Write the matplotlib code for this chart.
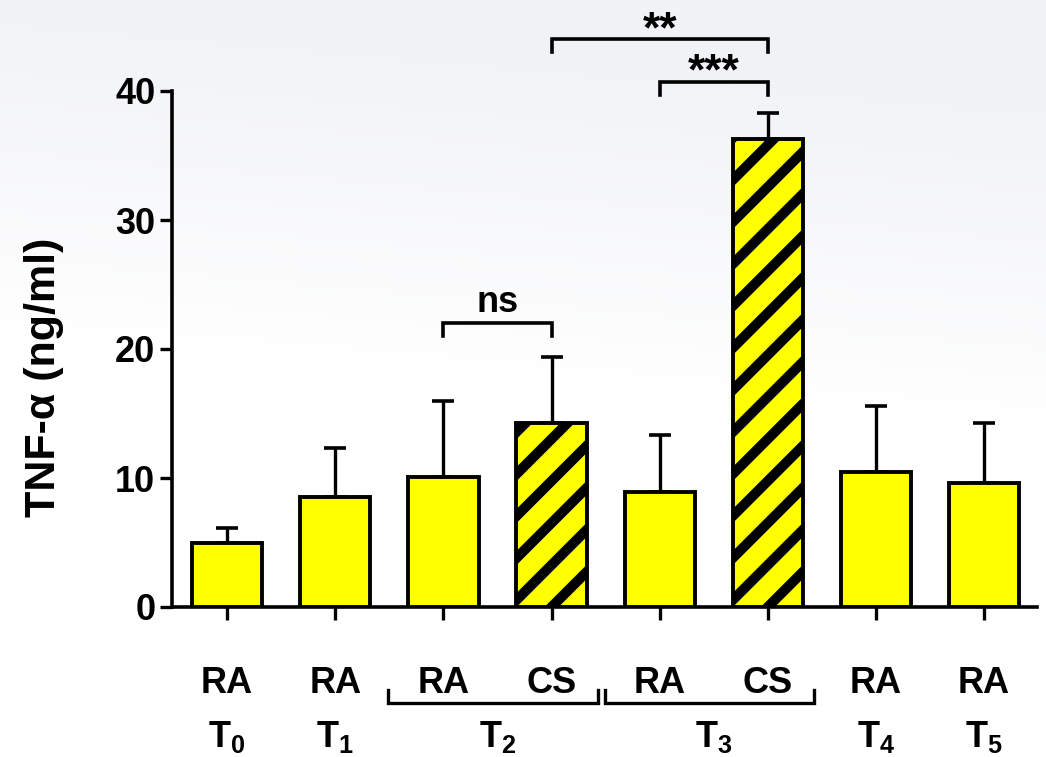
import numpy as np
import matplotlib
matplotlib.use("Agg")
import matplotlib.pyplot as plt
from matplotlib.lines import Line2D
from matplotlib.transforms import IdentityTransform

# valori (media + errore verso l'alto)
group_labels = ["RA", "RA", "RA", "CS", "RA", "CS", "RA", "RA"]
means = [5.0, 8.5, 10.1, 14.3, 8.9, 36.3, 10.5, 9.6]
errors = [1.1, 3.8, 5.9, 5.1, 4.4, 2.0, 5.1, 4.7]
hatched = [False, False, False, True, False, True, False, False]
time_labels = ["0", "1", "2", "3", "4", "5"]
time_centers = [0, 1, 2.5, 4.5, 6, 7]
paired_times = [(2, 3), (4, 5)]
# confronti: (barra a, barra b, altezza, testo)
comparisons = [(2, 3, 22.0, "ns"), (4, 5, 40.7, "***"), (3, 5, 44.0, "**")]

plt.rcParams["font.family"] = "Liberation Sans"
plt.rcParams["font.weight"] = "bold"
plt.rcParams["mathtext.fontset"] = "custom"
plt.rcParams["mathtext.rm"] = "Liberation Sans:bold"
plt.rcParams["mathtext.it"] = "Liberation Sans:bold"
plt.rcParams["mathtext.bf"] = "Liberation Sans:bold"
plt.rcParams["mathtext.default"] = "regular"

W, H = 1046, 757
fig = plt.figure(figsize=(W / 100, H / 100), dpi=100)

# sfondo sfumato leggero in alto
bg = fig.add_axes([0, 0, 1, 1], zorder=0)
bg.axis("off")
yy, xx = np.mgrid[0:1:200j, 0:1:200j]
t = np.clip((yy - 0.55 + 0.12 * xx) / 0.45, 0, 1)
base = np.array([1.0, 1.0, 1.0])
top = np.array([0.945, 0.950, 0.965])
img = base[None, None, :] * (1 - t[..., None]) + top[None, None, :] * t[..., None]
bg.imshow(img, extent=[0, 1, 0, 1], origin="lower", aspect="auto", interpolation="bilinear")
bg.set_xlim(0, 1)
bg.set_ylim(0, 1)

ax = fig.add_axes([172 / W, 150 / H, 865 / W, 516 / H], zorder=1)
ax.patch.set_alpha(0)

x = np.arange(len(means))
ax.errorbar(x, means, yerr=[np.zeros(len(errors)), errors], fmt="none",
            ecolor="black", elinewidth=2.4, capsize=8, capthick=2.6, zorder=2)
bars = ax.bar(x, means, width=0.65, color="#ffff00", edgecolor="black",
              linewidth=2.8, zorder=3)

ax.set_xlim(-0.51, 7.49)
ax.set_ylim(0, 40)
for s in ["top", "right"]:
    ax.spines[s].set_visible(False)
for s in ["left", "bottom"]:
    ax.spines[s].set_linewidth(2.6)
ax.set_yticks([0, 10, 20, 30, 40])
ax.set_xticks(x)
ax.set_xticklabels([])
ax.tick_params(axis="both", length=9, width=2.4, labelsize=26, pad=3)
ax.set_ylabel("TNF-α (ng/ml)", fontsize=31, fontweight="bold")
ax.yaxis.set_label_coords(-0.125, 0.446)

# righe diagonali spesse sulle barre CS
period = 42
for b, h in zip(bars, hatched):
    if not h:
        continue
    (x0, y0), (x1, y1) = ax.transData.transform(
        [(b.get_x(), 0), (b.get_x() + b.get_width(), b.get_height())])
    xc = (x0 + x1) / 2
    n = int((y1 - y0 + x1 - x0) / period) + 4
    for k in range(-4, n):
        yo = y0 + k * period
        ln = Line2D([x0 - 5, x1 + 5], [yo + (x0 - 5 - xc), yo + (x1 + 5 - xc)],
                    transform=IdentityTransform(), color="black", lw=7.2,
                    solid_capstyle="butt", zorder=3.1)
        ax.add_line(ln)
        ln.set_clip_path(b)

# etichette sotto l'asse
for i, lab in enumerate(group_labels):
    ax.text(i, -6.67, lab, ha="center", va="baseline", fontsize=26, clip_on=False)
for c, lab in zip(time_centers, time_labels):
    ax.text(c, -10.85, "$T_{%s}$" % lab, ha="center", va="baseline", fontsize=26,
            clip_on=False)
for a, b in paired_times:
    xa, xb = a - 0.51, b + 0.43
    ax.plot([xa, xa, xb, xb], [-6.43, -7.44, -7.44, -6.43], color="black",
            lw=2.4, clip_on=False, solid_joinstyle="miter")

# parentesi di significativita
for a, b, yb, txt in comparisons:
    ax.plot([a, a, b, b], [yb - 1.0, yb, yb, yb - 1.0], color="black", lw=2.6,
            clip_on=False, solid_joinstyle="miter")
    if txt == "ns":
        ax.text((a + b) / 2, yb + 0.9, txt, ha="center", va="baseline",
                fontsize=26, clip_on=False)
    else:
        ax.text((a + b) / 2, yb - 0.2, txt, ha="center", va="baseline",
                fontsize=32, clip_on=False)

fig.savefig("out.png", dpi=100)
